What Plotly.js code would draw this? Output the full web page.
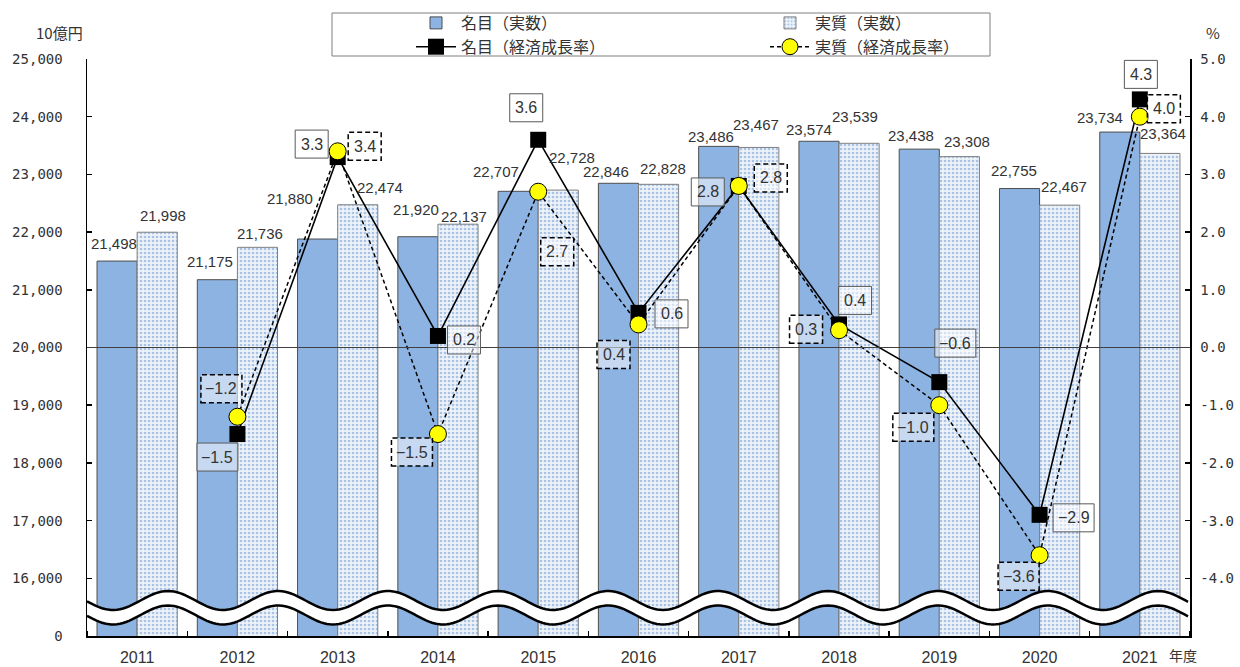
<!DOCTYPE html>
<html>
<head>
<meta charset="utf-8">
<script src="https://cdn.plot.ly/plotly-3.0.1.min.js"></script>
<style>
  html, body { margin: 0; padding: 0; background: #ffffff; }
  #chart { width: 1240px; height: 667px; }
</style>
</head>
<body>
<div id="chart"></div>
<script>
// ---------------- data ----------------
const years = [2011, 2012, 2013, 2014, 2015, 2016, 2017, 2018, 2019, 2020, 2021];
const nominalValues = [21498, 21175, 21880, 21920, 22707, 22846, 23486, 23574, 23438, 22755, 23734];
const realValues    = [21998, 21736, 22474, 22137, 22728, 22828, 23467, 23539, 23308, 22467, 23364];

const growthYears   = [2012, 2013, 2014, 2015, 2016, 2017, 2018, 2019, 2020, 2021];
const nominalGrowth = [-1.5, 3.3, 0.2, 3.6, 0.6, 2.8, 0.4, -0.6, -2.9, 4.3];
const realGrowth    = [-1.2, 3.4, -1.5, 2.7, 0.4, 2.8, 0.3, -1.0, -3.6, 4.0];

const leftTickValues  = [15000, 16000, 17000, 18000, 19000, 20000, 21000, 22000, 23000, 24000, 25000];
const leftTickLabels  = ['0', '16,000', '17,000', '18,000', '19,000', '20,000', '21,000', '22,000', '23,000', '24,000', '25,000'];
const rightTickValues = [-4, -3, -2, -1, 0, 1, 2, 3, 4, 5];
const rightTickLabels = ['-4.0', '-3.0', '-2.0', '-1.0', '0.0', '1.0', '2.0', '3.0', '4.0', '5.0'];
const xTickLabels = years.map(String);

const seriesNames = ['名目（実数）', '実質（実数）', '名目（経済成長率）', '実質（経済成長率）'];

// ---------------- label placement (pixel offsets, +down) ----------------
const nominalBarLabelOffset = [[-3,-18],[-7,-18],[-28,-41],[-2,-27],[-22,-20],[-13,-12],[-8,-10],[-10,-12],[-8,-14],[-6,-18],[-20,-15]];
const realBarLabelOffset    = [[6,-17],[3,-14],[22,-17],[6,-8],[14,-33],[4,-16],[-3,-23],[-4,-27],[8,-15],[4,-19],[3,-20]];
const nominalGrowthOffset   = [[-20,23],[-26,-13],[26,4],[-12,-32],[33,1],[-31,6],[16,-24],[16,-39],[34,3],[1,-25]];
const realGrowthOffset      = [[-16,-28],[27,-5],[-26,18],[19,60],[-25,30],[32,-8],[-33,-1],[-26,22],[-21,21],[24,-8]];

// ---------------- geometry of the plot frame ----------------
const W = 1240, H = 667;
const PL = 87, PR = 1190, PT = 59, PB = 636;
const px2x = p => (p - PL) / (PR - PL);
const py2y = p => (PB - p) / (PB - PT);

const textColor = '#333333';
const numFont = 'Liberation Sans, Arial, sans-serif';
const jpFont = 'Noto Sans CJK JP, sans-serif';
const monoFont = 'DejaVu Sans Mono, monospace';

const fmtPct = v => (v < 0 ? '\u2212' : '') + Math.abs(v).toFixed(1);

// ---------------- traces ----------------
const traces = [
  {
    type: 'bar', name: seriesNames[0], x: years, y: nominalValues, yaxis: 'y',
    marker: { color: '#8db3e2', line: { color: '#4d4d4d', width: 1 } },
    legend: 'legend', hoverinfo: 'skip'
  },
  {
    type: 'bar', name: seriesNames[1], x: years, y: realValues, yaxis: 'y',
    marker: {
      color: '#e8eff9',
      line: { color: '#7f7f7f', width: 1 },
      pattern: { shape: '.', bgcolor: '#eef3fa', fgcolor: '#a8c3e6', size: 4, solidity: 0.35 }
    },
    legend: 'legend2', hoverinfo: 'skip'
  },
  {
    type: 'scatter', mode: 'lines+markers', name: seriesNames[2],
    x: growthYears, y: nominalGrowth, yaxis: 'y2',
    line: { color: '#000000', width: 1.6 },
    marker: { symbol: 'square', size: 16, color: '#000000' },
    legend: 'legend', hoverinfo: 'skip', cliponaxis: false
  },
  {
    type: 'scatter', mode: 'lines+markers', name: seriesNames[3],
    x: growthYears, y: realGrowth, yaxis: 'y2',
    line: { color: '#000000', width: 1.5, dash: '4px,3px' },
    marker: { symbol: 'circle', size: 17, color: '#ffff00', line: { color: '#000000', width: 1 } },
    legend: 'legend2', hoverinfo: 'skip', cliponaxis: false
  }
];

// ---------------- annotations ----------------
const annotations = [];
years.forEach((yr, i) => {
  annotations.push({
    x: yr, y: nominalValues[i], xref: 'x', yref: 'y',
    xshift: -20 + nominalBarLabelOffset[i][0], yshift: -nominalBarLabelOffset[i][1],
    text: nominalValues[i].toLocaleString('en-US'), showarrow: false,
    xanchor: 'center', yanchor: 'middle',
    font: { family: numFont, size: 15, color: textColor }
  });
  annotations.push({
    x: yr, y: realValues[i], xref: 'x', yref: 'y',
    xshift: 20 + realBarLabelOffset[i][0], yshift: -realBarLabelOffset[i][1],
    text: realValues[i].toLocaleString('en-US'), showarrow: false,
    xanchor: 'center', yanchor: 'middle',
    font: { family: numFont, size: 15, color: textColor }
  });
});

const shapes = [];
// 0% reference line
shapes.push({
  type: 'line', xref: 'paper', yref: 'y2', x0: 0, x1: 1, y0: 0, y1: 0,
  line: { color: '#404040', width: 1 }, layer: 'above'
});

function addGrowthLabel(yr, v, off, dashed) {
  const txt = fmtPct(v);
  const w = txt.length * 8 + 9;
  const h = 28;
  shapes.push({
    type: 'rect', xref: 'x', yref: 'y2',
    xsizemode: 'pixel', ysizemode: 'pixel', xanchor: yr, yanchor: v,
    x0: off[0] - w / 2, x1: off[0] + w / 2,
    y0: -off[1] - h / 2, y1: -off[1] + h / 2,
    fillcolor: 'rgba(255,255,255,0.5)',
    line: dashed ? { color: '#000000', width: 1.5, dash: '5px,3px' } : { color: '#595959', width: 1 },
    layer: 'above'
  });
  annotations.push({
    x: yr, y: v, xref: 'x', yref: 'y2', xshift: off[0], yshift: -off[1],
    text: txt, showarrow: false, xanchor: 'center', yanchor: 'middle',
    font: { family: numFont, size: 16, color: textColor }
  });
}
growthYears.forEach((yr, i) => addGrowthLabel(yr, nominalGrowth[i], nominalGrowthOffset[i], false));
growthYears.forEach((yr, i) => addGrowthLabel(yr, realGrowth[i], realGrowthOffset[i], true));

// axis unit labels
annotations.push({ xref: 'paper', yref: 'paper', x: px2x(59), y: py2y(33), text: '10億円', showarrow: false,
  xanchor: 'center', yanchor: 'middle', font: { family: jpFont, size: 15, color: textColor } });
annotations.push({ xref: 'paper', yref: 'paper', x: px2x(1213), y: py2y(33), text: '%', showarrow: false,
  xanchor: 'center', yanchor: 'middle', font: { family: jpFont, size: 15, color: textColor } });
annotations.push({ xref: 'paper', yref: 'paper', x: px2x(1183), y: py2y(655), text: '年度', showarrow: false,
  xanchor: 'center', yanchor: 'middle', font: { family: jpFont, size: 14, color: textColor } });

// ---------------- axis break (wavy band) ----------------
function wave(centerY) {
  const pts = [];
  for (let p = PL; p <= PR + 0.01; p += 3) {
    pts.push([p, centerY + 9.5 * Math.cos(2 * Math.PI * (p - 113) / 110)]);
  }
  return pts;
}
const topWave = wave(600.5);
const botWave = wave(615);
const toPath = pts => pts.map((q, k) => (k ? 'L' : 'M') + px2x(q[0]).toFixed(5) + ',' + py2y(q[1]).toFixed(5)).join(' ');
let fillPath = toPath(topWave) + ' ' +
  botWave.slice().reverse().map(q => 'L' + px2x(q[0]).toFixed(5) + ',' + py2y(q[1]).toFixed(5)).join(' ') + ' Z';
shapes.push({ type: 'path', xref: 'paper', yref: 'paper', path: fillPath, fillcolor: '#ffffff', line: { width: 0 }, layer: 'above' });
shapes.push({ type: 'path', xref: 'paper', yref: 'paper', path: toPath(topWave), line: { color: '#000000', width: 2.5 }, layer: 'above' });
shapes.push({ type: 'path', xref: 'paper', yref: 'paper', path: toPath(botWave), line: { color: '#000000', width: 2.5 }, layer: 'above' });

// legend frame
shapes.push({ type: 'rect', xref: 'paper', yref: 'paper',
  x0: px2x(332), x1: px2x(990), y0: py2y(56), y1: py2y(13),
  line: { color: '#7f7f7f', width: 1 }, fillcolor: 'rgba(0,0,0,0)', layer: 'above' });

// ---------------- layout ----------------
const layout = {
  width: W, height: H,
  margin: { l: PL, r: W - PR, t: PT, b: H - PB, pad: 0, autoexpand: false },
  paper_bgcolor: '#ffffff', plot_bgcolor: '#ffffff',
  barmode: 'group', bargap: 0.2, bargroupgap: 0,
  showlegend: true,
  legend: {
    x: px2x(411), y: py2y(6), xanchor: 'left', yanchor: 'top',
    orientation: 'v', bgcolor: 'rgba(0,0,0,0)', borderwidth: 0,
    font: { family: jpFont, size: 16, color: textColor }, tracegroupgap: 0, itemwidth: 40
  },
  legend2: {
    x: px2x(765), y: py2y(6), xanchor: 'left', yanchor: 'top',
    orientation: 'v', bgcolor: 'rgba(0,0,0,0)', borderwidth: 0,
    font: { family: jpFont, size: 16, color: textColor }, tracegroupgap: 0, itemwidth: 40
  },
  xaxis: {
    type: 'linear', range: [2010.5, 2021.5],
    tickmode: 'array', tickvals: years, ticktext: xTickLabels,
    ticks: '', showgrid: false, zeroline: false,
    showline: true, linecolor: '#000000', linewidth: 1.5,
    ticklabelstandoff: 6,
    tickfont: { family: numFont, size: 16, color: textColor },
    minor: { tickmode: 'linear', tick0: 2011.5, dtick: 1, ticks: 'inside', ticklen: 5, tickwidth: 1.5, tickcolor: '#000000', showgrid: false },
    fixedrange: true
  },
  yaxis: {
    range: [15000, 25000], tickmode: 'array', tickvals: leftTickValues, ticktext: leftTickLabels,
    ticks: 'inside', ticklen: 5, tickwidth: 1.5, tickcolor: '#000000',
    showline: true, linecolor: '#000000', linewidth: 1.5,
    showgrid: false, zeroline: false, ticklabelstandoff: 20,
    tickfont: { family: monoFont, size: 14, color: textColor },
    fixedrange: true
  },
  yaxis2: {
    overlaying: 'y', side: 'right', range: [-5, 5],
    tickmode: 'array', tickvals: rightTickValues, ticktext: rightTickLabels,
    ticks: 'inside', ticklen: 5, tickwidth: 1.5, tickcolor: '#000000',
    showline: true, linecolor: '#000000', linewidth: 1.5,
    showgrid: false, zeroline: false, ticklabelstandoff: 6,
    tickfont: { family: monoFont, size: 14, color: textColor },
    fixedrange: true
  },
  annotations: annotations,
  shapes: shapes
};

Plotly.newPlot('chart', traces, layout, { staticPlot: true, displayModeBar: false });
</script>
</body>
</html>
